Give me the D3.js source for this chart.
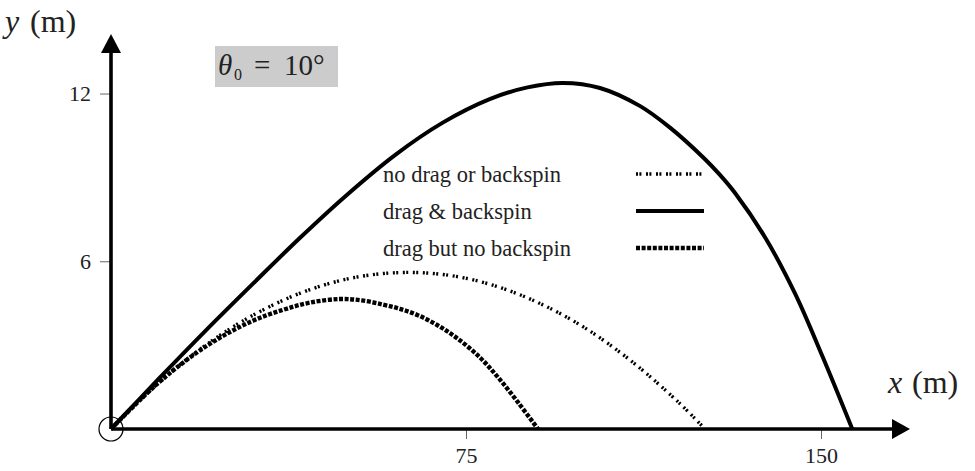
<!DOCTYPE html>
<html>
<head>
<meta charset="utf-8">
<script src="https://cdn.jsdelivr.net/npm/d3@7"></script>
<style>
  body { margin: 0; background: #fff; }
  svg { display: block; }
  text { font-family: "Liberation Serif", "DejaVu Serif", serif; fill: #222; }
</style>
</head>
<body>
<div id="chart"></div>
<script>
// distances in metres
const noDragX = [0, 10, 20, 30, 40, 50, 60, 70, 80, 90, 100, 110, 120, 125.5];
const noDragY = [0, 1.64, 3.00, 4.07, 4.86, 5.37, 5.59, 5.53, 5.18, 4.54, 3.63, 2.42, 0.94, 0];

const spinX = [0, 10, 20, 30, 40, 50, 60, 70, 80, 88, 95.5, 103.3, 111.8, 118.1, 125.5, 128.7, 131.8, 138.2, 144.5, 150.3, 156.6];
const spinY = [0, 1.78, 3.52, 5.2, 6.85, 8.4, 9.8, 10.95, 11.8, 12.22, 12.38, 12.2, 11.55, 10.78, 9.65, 9.08, 8.45, 6.85, 4.85, 2.6, 0];

const dragX = [0, 10, 20, 29.4, 36.3, 42, 48.4, 53, 57.5, 61, 64.7, 68.9, 73.1, 78, 82, 86, 90.2];
const dragY = [0, 1.65, 2.95, 3.83, 4.26, 4.52, 4.65, 4.6, 4.45, 4.3, 4.08, 3.72, 3.25, 2.55, 1.8, 0.95, 0];

const xTicks = [75, 150];
const yTicks = [6, 12];

const seriesNames = ['no drag or backspin', 'drag & backspin', 'drag but no backspin'];
const angleLabel = '10°';

const W = 975, H = 471;
const svg = d3.select('#chart').append('svg').attr('width', W).attr('height', H);

const x = d3.scaleLinear().domain([0, 168.8]).range([111, 910]);
const y = d3.scaleLinear().domain([0, 14.13]).range([429, 34]);

const styles = [
    {width: 3.4, dash: '2,1.4,2,4.6'},
    {width: 4, dash: null},
    {width: 4.4, dash: '4,1.6'}
];

// ticks
const xAxis = svg.append('g')
    .attr('transform', `translate(0,${y(0)})`)
    .call(d3.axisBottom(x).tickValues(xTicks).tickSize(10).tickPadding(8).tickFormat(d3.format('d')));
const yAxis = svg.append('g')
    .attr('transform', `translate(${x(0)},0)`)
    .call(d3.axisLeft(y).tickValues(yTicks).tickSize(11).tickPadding(9).tickFormat(d3.format('d')));
[xAxis, yAxis].forEach(a => {
    a.select('.domain').remove();
    a.selectAll('.tick line').attr('stroke', '#666').attr('stroke-width', 1);
    a.selectAll('.tick text').style('font-family', '"Liberation Serif", serif').style('font-size', '22px').attr('fill', '#222');
});

// axis lines with arrows
svg.append('line')
    .attr('x1', x(0)).attr('y1', y(0)).attr('x2', 895).attr('y2', y(0))
    .attr('stroke', '#000').attr('stroke-width', 3.6);
svg.append('path')
    .attr('d', `M910,${y(0)} L892,${y(0) - 10} L892,${y(0) + 10} Z`)
    .attr('fill', '#000');
svg.append('line')
    .attr('x1', x(0)).attr('y1', y(0)).attr('x2', x(0)).attr('y2', 50)
    .attr('stroke', '#000').attr('stroke-width', 3.6);
svg.append('path')
    .attr('d', `M${x(0)},34 L${x(0) - 10},53 L${x(0) + 10},53 Z`)
    .attr('fill', '#000');

svg.append('circle')
    .attr('cx', x(0)).attr('cy', y(0)).attr('r', 12)
    .attr('fill', 'none').attr('stroke', '#000').attr('stroke-width', 1.2);

// trajectories
const line = d3.line()
    .x(d => x(d[0]))
    .y(d => y(d[1]))
    .curve(d3.curveCatmullRom.alpha(0.5));

const series = [
    d3.zip(noDragX, noDragY),
    d3.zip(spinX, spinY),
    d3.zip(dragX, dragY)
];

series.forEach((pts, i) => {
    svg.append('path')
        .datum(pts)
        .attr('d', line)
        .attr('fill', 'none')
        .attr('stroke', '#000')
        .attr('stroke-width', styles[i].width)
        .attr('stroke-dasharray', styles[i].dash);
});

// legend
const legend = svg.append('g');
const rowY = [174, 211, 248];
seriesNames.forEach((name, i) => {
    legend.append('text')
        .attr('x', 383).attr('y', rowY[i] + 8)
        .style('font-size', '22.5px')
        .text(name);
    legend.append('line')
        .attr('x1', 636).attr('x2', 704)
        .attr('y1', rowY[i]).attr('y2', rowY[i])
        .attr('stroke', '#000')
        .attr('stroke-width', styles[i].width)
        .attr('stroke-dasharray', styles[i].dash);
});

// angle box
svg.append('rect')
    .attr('x', 215).attr('y', 46).attr('width', 123).attr('height', 41)
    .attr('fill', '#cccccc');
const ang = svg.append('text').attr('y', 75).style('font-size', '29px');
ang.append('tspan').attr('x', 218).style('font-style', 'italic').text('θ');
ang.append('tspan').attr('x', 234).attr('dy', 5).style('font-size', '16px').text('0');
ang.append('tspan').attr('x', 254).attr('dy', -5).text('=');
ang.append('tspan').attr('x', 284).text(angleLabel);

// axis titles
const yt = svg.append('text').attr('y', 32).style('font-size', '32px');
yt.append('tspan').attr('x', 5).style('font-style', 'italic').text('y');
yt.append('tspan').attr('x', 30).text('(m)');
const xt = svg.append('text').attr('y', 393).style('font-size', '32px');
xt.append('tspan').attr('x', 888).style('font-style', 'italic').text('x');
xt.append('tspan').attr('x', 912).text('(m)');
</script>
</body>
</html>
